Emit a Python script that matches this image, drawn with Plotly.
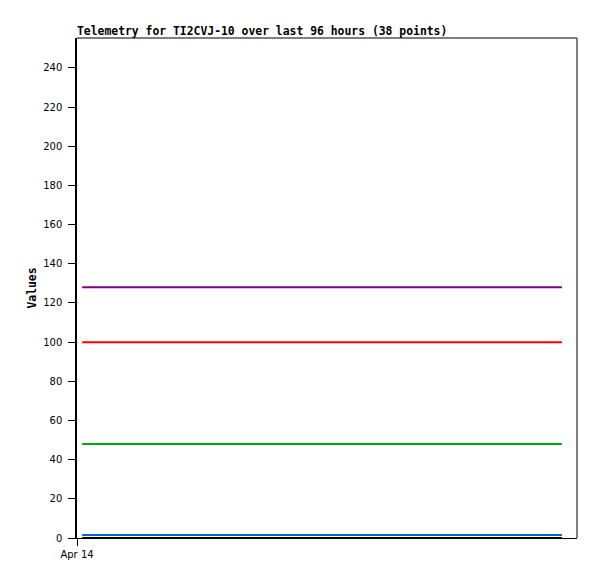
import plotly.graph_objects as go
import pandas as pd

# Data
n_points = 38
times = pd.date_range("2024-04-14 01:00", "2024-04-17 21:06", periods=n_points)
series_names = ["purple", "red", "green", "blue", "black"]
series_values = {
    "purple": [128.0] * n_points,
    "red": [100.0] * n_points,
    "green": [48.0] * n_points,
    "blue": [1.5] * n_points,
    "black": [0.0] * n_points,
}
series_colors = {
    "purple": "#800080",
    "red": "#ff0000",
    "green": "#00aa00",
    "blue": "#0066cc",
    "black": "#000000",
}
y_ticks = list(range(0, 241, 20))
x_tick_vals = ["2024-04-14 00:00"]
x_tick_text = ["Apr 14"]

W, H = 589, 571
fig = go.Figure()
for name in series_names:
    fig.add_trace(go.Scatter(x=times, y=series_values[name], mode="lines",
                             line=dict(color=series_colors[name], width=2),
                             name=name, showlegend=False))

fig.update_layout(
    width=W, height=H,
    margin=dict(l=69, r=20, t=30, b=41),
    paper_bgcolor="white", plot_bgcolor="white",
    title=dict(text="<b>Telemetry for TI2CVJ-10 over last 96 hours (38 points)</b>",
               x=69/W, xanchor="left", y=1-27/H, yanchor="bottom",
               font=dict(family="DejaVu Sans Mono", size=11.4, color="black")),
    font=dict(family="DejaVu Sans", size=10, color="black"),
)
fig.update_xaxes(range=["2024-04-14 00:00", "2024-04-18 00:00"],
                 tickvals=x_tick_vals, ticktext=x_tick_text,
                 showgrid=False, zeroline=False,
                 showline=True, linecolor="black", linewidth=1.2,
                 ticks="outside", ticklen=7, tickcolor="black",
                 tickfont=dict(family="DejaVu Sans", size=10))
fig.update_yaxes(range=[0, 255.3], tickvals=y_ticks,
                 showgrid=False, zeroline=False,
                 showline=True, linecolor="black", linewidth=1.5,
                 ticks="outside", ticklen=7, tickcolor="black",
                 ticklabelstandoff=4,
                 tickfont=dict(family="DejaVu Sans", size=10),
                 title=dict(text="<b>Values</b>", standoff=4,
                            font=dict(family="DejaVu Sans Mono", size=11.4)))
# top and right frame lines
fig.add_shape(type="line", xref="paper", yref="paper", x0=0, x1=1, y0=1, y1=1,
              line=dict(color="#555555", width=1.5))
fig.add_shape(type="line", xref="paper", yref="paper", x0=1, x1=1, y0=0, y1=1,
              line=dict(color="#555555", width=1.5))

fig.write_html("out.html")
